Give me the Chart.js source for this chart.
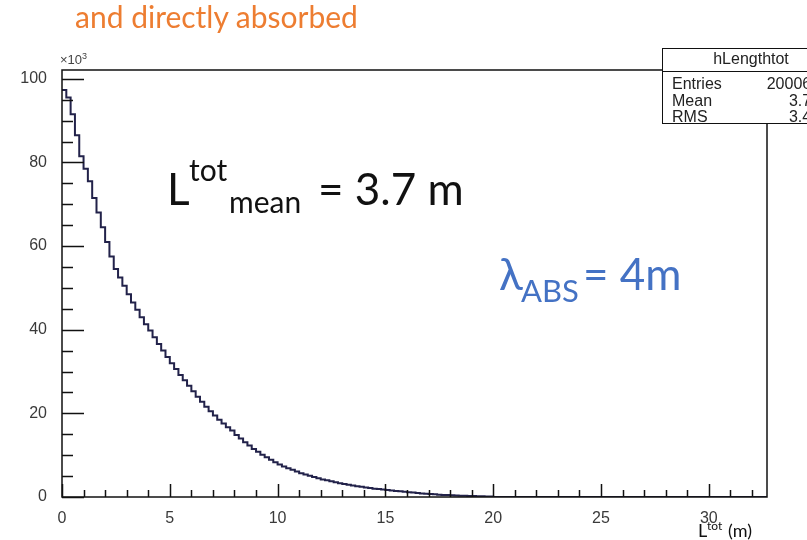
<!DOCTYPE html>
<html>
<head>
<meta charset="utf-8">
<title>hLengthtot</title>
<script src="https://cdn.jsdelivr.net/npm/chart.js@4"></script>
<style>
  body { margin: 0; background: #fff; }
  #page { position: relative; width: 807px; height: 540px; overflow: hidden; }
  #plot { position: absolute; left: 0; top: 0; }
  .txt { position: absolute; white-space: nowrap; line-height: 1; font-family: Lato, "Open Sans", sans-serif; }
  .orange { color: #ed7d31; }
  .blue { color: #4472c4; }
  .black { color: #111; }
  #stats { position: absolute; left: 662px; top: 48px; width: 176px; height: 74px; background: #fff;
           border: 1px solid #111; font-family: "Liberation Sans", Arial, sans-serif; font-size: 16px; color: #222; }
  #stats .hd { height: 22px; line-height: 20px; text-align: center; border-bottom: 1px solid #111; margin-bottom: 4px; }
  #stats .row { height: 16.5px; line-height: 16.5px; padding: 0 10px 0 9px; display: flex; justify-content: space-between; }
  #mult { position: absolute; left: 60px; top: 52px; font-family: "Liberation Sans", Arial, sans-serif; font-size: 13px; color: #444; line-height: 1; }
  #mult sup { font-size: 9px; }
</style>
</head>
<body>
<div id="page">
  <canvas id="plot" width="807" height="540"></canvas>

  <div class="txt orange" style="left:75px; top:1px; font-size:30px;">and directly absorbed</div>

  <div class="txt black" style="left:167px; top:166px; font-size:44px;">L</div>
  <div class="txt black" style="left:189px; top:154px; font-size:30px;">tot</div>
  <div class="txt black" style="left:229px; top:186px; font-size:30px;">mean</div>
  <div class="txt black" style="left:318px; top:166px; font-size:44px;">= 3.7 m</div>

  <div class="txt blue" style="left:499px; top:251px; font-size:44px;">λ</div>
  <div class="txt blue" style="left:521px; top:275px; font-size:31px;">ABS</div>
  <div class="txt blue" style="left:583px; top:251px; font-size:44px;">= 4m</div>

  <div class="txt black" style="left:698px; top:521px; font-size:18px;">L</div>
  <div class="txt black" style="left:707px; top:520px; font-size:12px;">tot</div>
  <div class="txt black" style="left:728px; top:521px; font-size:18px;">(m)</div>

  <div id="mult">×10<sup>3</sup></div>

  <div id="stats">
    <div class="hd">hLengthtot</div>
    <div class="row"><span>Entries</span><span>2000600</span></div>
    <div class="row"><span>Mean</span><span>3.702</span></div>
    <div class="row"><span>RMS</span><span>3.421</span></div>
  </div>
</div>

<script>
// histogram of total path length, bin width 0.2 m, counts in units of 10^3
const binWidth = 0.2;
const counts = [
  97.3, 95.5, 91.5, 86.5, 81.5, 78.5, 75.5, 71.5, 68.0, 64.5,
  61.0, 57.5, 54.5, 52.5, 50.5, 48.5, 46.5, 44.8, 43.0, 41.3,
  39.8, 38.2, 36.6, 35.0, 33.5, 32.0, 30.6, 29.2, 27.9, 26.6,
  25.3, 24.0, 22.8, 21.6, 20.5, 19.5, 18.5, 17.6, 16.7, 15.9,
  14.8, 14.0, 13.1, 12.3, 11.5, 10.8, 10.1, 9.5, 8.9, 8.3,
  7.8, 7.3, 6.9, 6.5, 6.1, 5.7, 5.4, 5.1, 4.8, 4.5,
  4.2, 4.0, 3.75, 3.5, 3.3, 3.1, 2.9, 2.75, 2.6, 2.45,
  2.3, 2.15, 2.0, 1.9, 1.8, 1.7, 1.55, 1.45, 1.35, 1.25,
  1.15, 1.05, 0.95, 0.85, 0.78, 0.7, 0.63, 0.56, 0.5, 0.45,
  0.4, 0.35, 0.31, 0.27, 0.24, 0.21, 0.18, 0.15, 0.12, 0.1
];
const xTicks = [0, 5, 10, 15, 20, 25, 30];
const yTicks = [0, 20, 40, 60, 80, 100];
const xMax = 32.7;
const yMax = 102.1;

const points = counts.map((c, i) => ({ x: i * binWidth, y: c }));
points.push({ x: counts.length * binWidth, y: 0 });
points.push({ x: xMax, y: 0 });

// ROOT style frame with ticks drawn inside
const rootFrame = {
  id: "rootFrame",
  afterDatasetsDraw(chart) {
    const { ctx, chartArea: a, scales } = chart;
    const x = scales.x, y = scales.y;
    ctx.save();
    ctx.strokeStyle = "#111";
    ctx.lineWidth = 1.5;
    ctx.strokeRect(a.left, a.top, a.right - a.left, a.bottom - a.top);
    ctx.beginPath();
    for (let v = 0; v <= xMax; v += 1) {
      const px = Math.round(x.getPixelForValue(v)) + 0.5;
      const len = xTicks.includes(v) ? 13 : 7;
      ctx.moveTo(px, a.bottom);
      ctx.lineTo(px, a.bottom - len);
    }
    for (let v = 0; v <= yMax; v += 5) {
      const py = Math.round(y.getPixelForValue(v)) + 0.5;
      const len = yTicks.includes(v) ? 22 : 11;
      ctx.moveTo(a.left, py);
      ctx.lineTo(a.left + len, py);
    }
    ctx.stroke();
    ctx.restore();
  }
};

const tickFont = { family: "'Liberation Sans', Arial, sans-serif", size: 16 };

new Chart(document.getElementById("plot"), {
  type: "line",
  data: {
    datasets: [{
      data: points,
      stepped: "before",
      borderColor: "#22224a",
      borderWidth: 2,
      pointRadius: 0,
      fill: false
    }]
  },
  options: {
    responsive: false,
    animation: false,
    layout: { padding: { left: 0, right: 40, top: 70, bottom: 0 } },
    plugins: { legend: { display: false }, tooltip: { enabled: false } },
    scales: {
      x: {
        type: "linear",
        min: 0,
        max: xMax,
        grid: { display: false },
        border: { display: false },
        afterFit: (s) => { s.height = 43; },
        afterBuildTicks: (s) => { s.ticks = xTicks.map(v => ({ value: v })); },
        ticks: { font: tickFont, color: "#3a3a3a", padding: 4 }
      },
      y: {
        min: 0,
        max: yMax,
        grid: { display: false },
        border: { display: false },
        afterFit: (s) => { s.width = 62; },
        afterBuildTicks: (s) => { s.ticks = yTicks.map(v => ({ value: v })); },
        ticks: { font: tickFont, color: "#3a3a3a", padding: 7 }
      }
    }
  },
  plugins: [rootFrame]
});
</script>
</body>
</html>
